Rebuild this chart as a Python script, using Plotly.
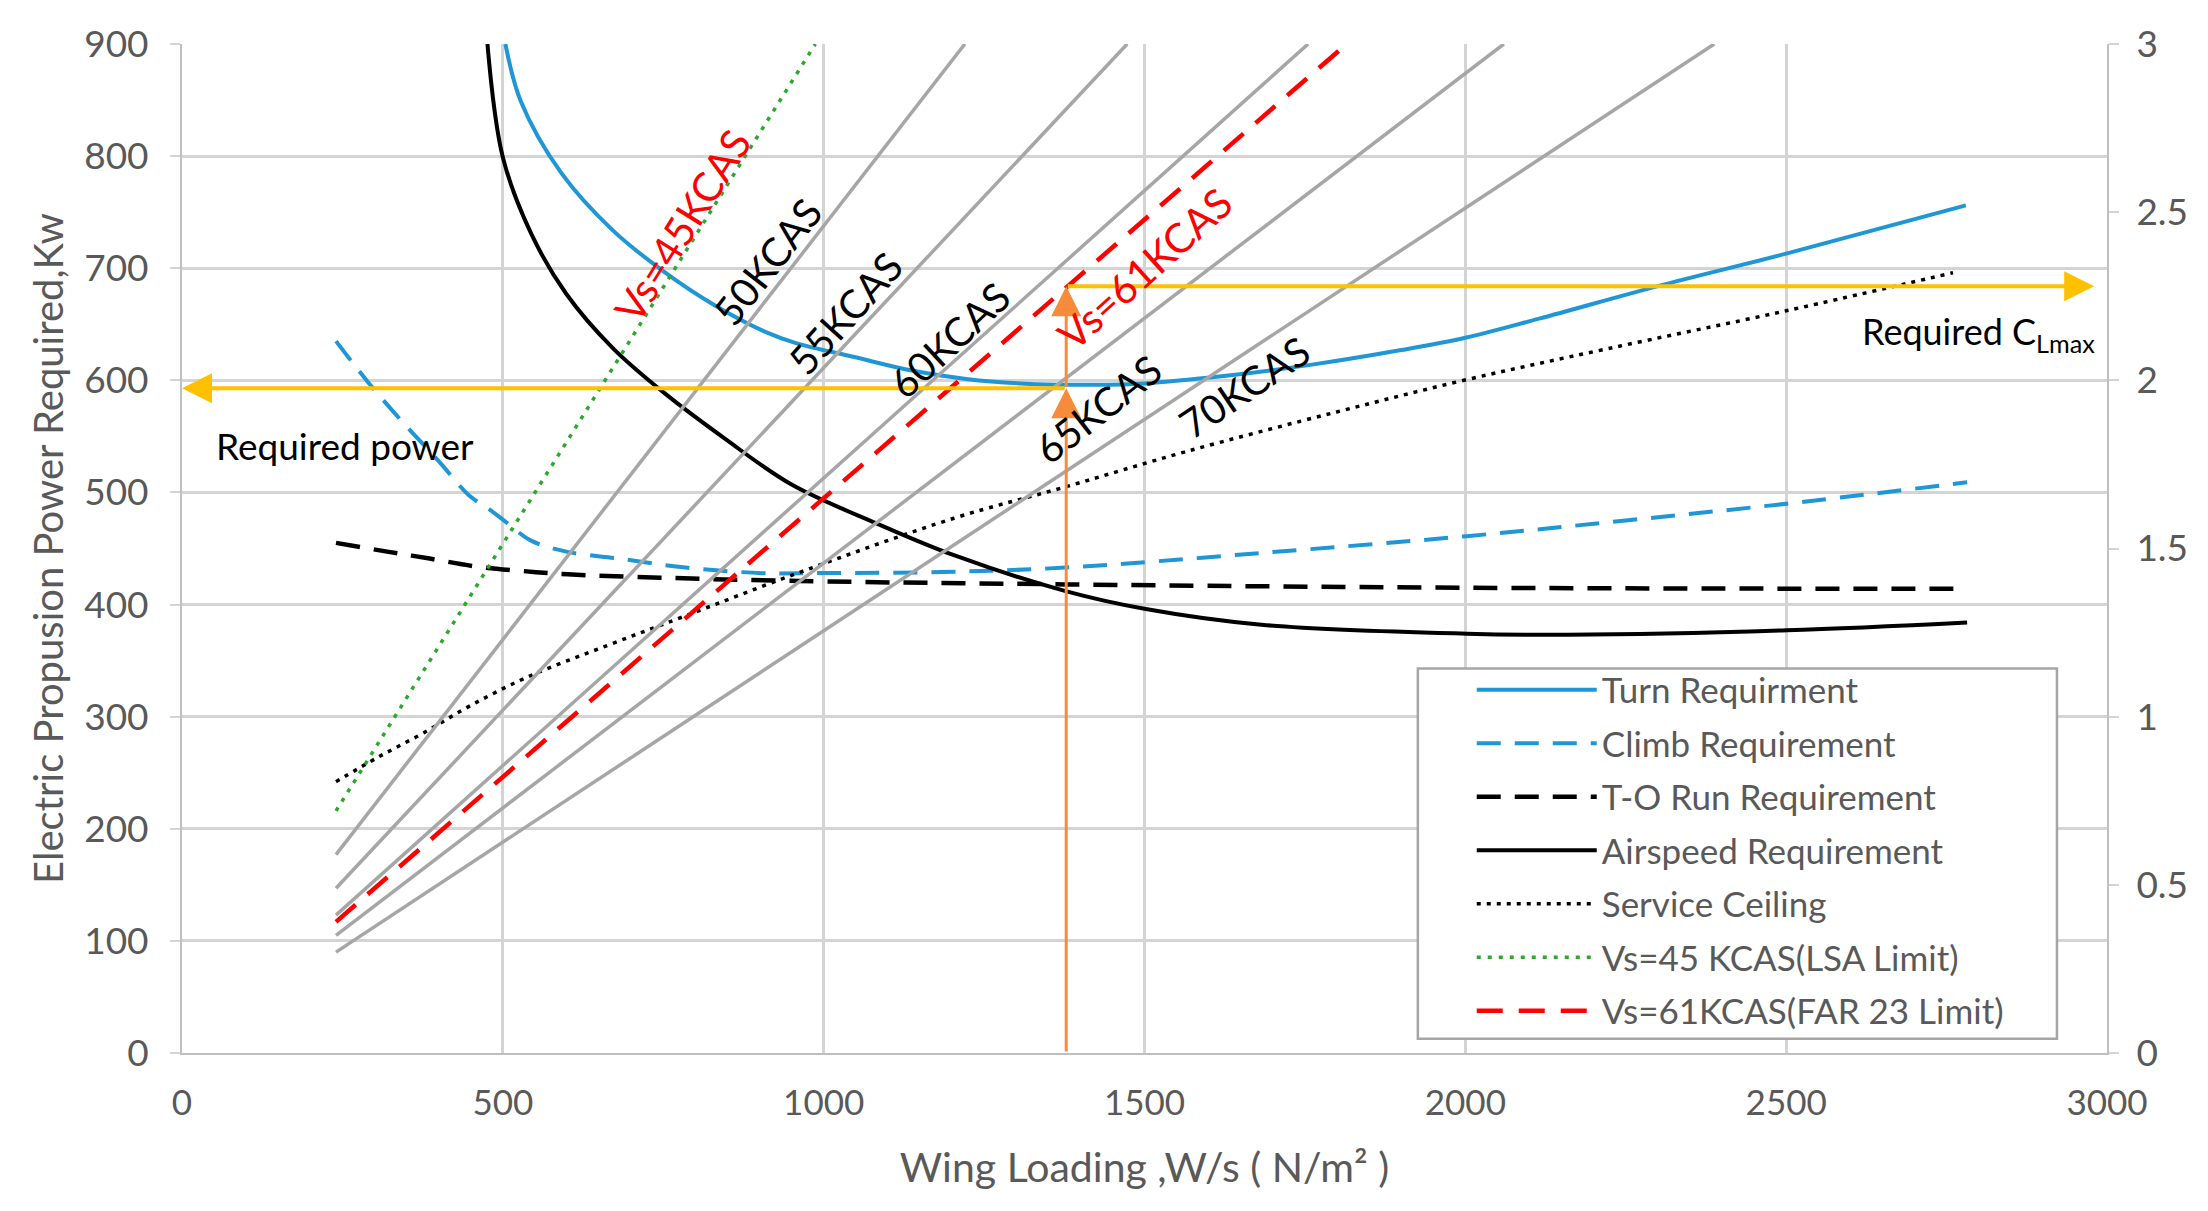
import plotly.graph_objects as go

# Wing loading (N/m^2) vs electric propulsion power required (kW)
turn_ws = [504, 528, 591, 671, 751, 830, 910, 958, 1046, 1135, 1225, 1314, 1386, 1493, 1627, 1761, 1900, 2000, 2115, 2300, 2500, 2780]
turn_kw = [900, 849, 785, 734, 697, 667, 643, 633, 621, 609, 601, 597, 596, 597, 604, 614, 627, 638, 655, 684, 713, 756]

climb_ws = [240, 289, 345, 400, 448, 474, 504, 544, 601, 681, 785, 904, 964, 1183, 1377, 1682, 2002, 2250, 2501, 2782]
climb_kw = [635, 599, 562, 528, 497, 487, 474, 457, 447, 441, 433, 428, 428, 429, 433, 446, 461, 475, 490, 509]

takeoff_ws = [240, 322, 386, 458, 529, 601, 745, 964, 1377, 2002, 2782]
takeoff_kw = [455, 447, 441, 434, 430, 427, 424, 421, 418, 415, 414]

airspeed_ws = [476, 500, 544, 599, 671, 751, 846, 950, 1084, 1203, 1377, 1502, 1682, 2002, 2160, 2501, 2782]
airspeed_kw = [900, 799, 731, 677, 629, 589, 548, 507, 472, 444, 412, 396, 382, 374, 373, 377, 384]

ceiling_ws = [240, 306, 378, 450, 537, 665, 785, 964, 1203, 1377, 1562, 1801, 2005, 2220, 2500, 2760]
ceiling_kw = [242, 264, 286, 310, 335, 364, 390, 429, 477, 505, 536, 572, 601, 628, 662, 696]

# stall speed lines, CLmax (right axis) vs wing loading
kcas_labels = ['50KCAS', '55KCAS', '60KCAS', '65KCAS', '70KCAS']
kcas_ws = [[240, 1220], [240, 1473], [240, 1755], [240, 2060], [240, 2388]]
kcas_cl = [[0.59, 3.0], [0.49, 3.0], [0.41, 3.0], [0.35, 3.0], [0.30, 3.0]]

vs45_ws = [240, 987]
vs45_cl = [0.72, 3.0]
vs61_ws = [240, 1815]
vs61_cl = [0.39, 3.0]

# design point
design_ws = 1378
design_kw = 593
design_clmax = 2.28

blue = '#1f96d6'
font = 'Lato'
grey_txt = '#595959'

fig = go.Figure()

for ws, cl in zip(kcas_ws, kcas_cl):
    fig.add_trace(go.Scatter(x=ws, y=cl, yaxis='y2', mode='lines',
                             line=dict(color='#a6a6a6', width=3.5),
                             showlegend=False, hoverinfo='skip'))

fig.add_trace(go.Scatter(x=turn_ws, y=turn_kw, name='Turn Requirment', mode='lines',
                         line=dict(color=blue, width=4, shape='spline'), legendgroup='a'))
fig.add_trace(go.Scatter(x=climb_ws, y=climb_kw, name='Climb Requirement', mode='lines',
                         line=dict(color=blue, width=4, dash='24px,14px', shape='spline'), legendgroup='b'))
fig.add_trace(go.Scatter(x=takeoff_ws, y=takeoff_kw, name='T-O Run Requirement', mode='lines',
                         line=dict(color='black', width=4.5, dash='24px,14px', shape='spline'), legendgroup='c'))
fig.add_trace(go.Scatter(x=airspeed_ws, y=airspeed_kw, name='Airspeed Requirement', mode='lines',
                         line=dict(color='black', width=4, shape='spline'), legendgroup='d'))
fig.add_trace(go.Scatter(x=ceiling_ws, y=ceiling_kw, name='Service Ceiling', mode='lines',
                         line=dict(color='black', width=3.5, dash='4px,6px', shape='spline'), legendgroup='e'))
fig.add_trace(go.Scatter(x=vs45_ws, y=vs45_cl, yaxis='y2', name='Vs=45 KCAS(LSA Limit)', mode='lines',
                         line=dict(color='#2ca82c', width=3.5, dash='4px,7px'), legendgroup='f'))
fig.add_trace(go.Scatter(x=vs61_ws, y=vs61_cl, yaxis='y2', name='Vs=61KCAS(FAR 23 Limit)', mode='lines',
                         line=dict(color='#ff0000', width=4.5, dash='26px,16px'), legendgroup='g'))

annotations = []

# design point arrows
arrow_common = dict(text='', showarrow=True, arrowhead=2, standoff=0)
annotations.append(dict(x=0, y=design_kw, ax=design_ws, ay=design_kw, xref='x', yref='y',
                        axref='x', ayref='y', arrowcolor='#ffc000', arrowwidth=4, arrowsize=1.5, **arrow_common))
annotations.append(dict(x=2980, y=design_clmax, ax=design_ws, ay=design_clmax, xref='x', yref='y2',
                        axref='x', ayref='y2', arrowcolor='#ffc000', arrowwidth=4, arrowsize=1.5, **arrow_common))
annotations.append(dict(x=design_ws, y=design_kw, ax=design_ws, ay=0, xref='x', yref='y',
                        axref='x', ayref='y', arrowcolor='#f68b3c', arrowwidth=3, arrowsize=2, **arrow_common))
annotations.append(dict(x=design_ws, y=design_clmax, ax=design_ws, ay=design_kw / 300, xref='x', yref='y2',
                        axref='x', ayref='y2', arrowcolor='#f68b3c', arrowwidth=3, arrowsize=2, **arrow_common))

annotations.append(dict(x=50, y=542, xref='x', yref='y', text='Required power', showarrow=False,
                        xanchor='left', font=dict(family=font, size=37, color='black')))
annotations.append(dict(x=2985, y=2.14, xref='x', yref='y2', text='Required C<sub>Lmax</sub>', showarrow=False,
                        xanchor='right', font=dict(family=font, size=36, color='black')))

# line labels
kcas_label_pos = [(912, 706, -52), (1034, 660, -48), (1196, 636, -43), (1428, 574, -38), (1656, 594, -34)]
for lab, (lx, ly, ang) in zip(kcas_labels, kcas_label_pos):
    annotations.append(dict(x=lx, y=ly, xref='x', yref='y', text=lab, showarrow=False, textangle=ang,
                            font=dict(family=font, size=40, color='black')))
annotations.append(dict(x=780, y=738, xref='x', yref='y', text='Vs=45KCAS', showarrow=False, textangle=-58,
                        font=dict(family=font, size=41, color='#ff0000')))
annotations.append(dict(x=1500, y=700, xref='x', yref='y', text='Vs=61KCAS', showarrow=False, textangle=-42,
                        font=dict(family=font, size=41, color='#ff0000')))

# legend frame: drawn as a shape so the entries can sit inset from the border
shapes = [dict(type='rect', xref='paper', yref='paper', x0=0.642, x1=0.974, y0=0.014, y1=0.381,
               line=dict(color='#a6a6a6', width=2.5), fillcolor='white', layer='above')]

axis_common = dict(showline=True, linecolor='#bfbfbf', linewidth=2, gridcolor='#d4d4d4', gridwidth=2.5,
                   zeroline=False)

fig.update_layout(
    width=2192, height=1195,
    margin=dict(l=174, r=93, t=30, b=150),
    paper_bgcolor='white', plot_bgcolor='white',
    font=dict(family=font, color=grey_txt),
    xaxis=dict(range=[0, 3000], dtick=500, ticks='', ticklabelstandoff=18,
               tickfont=dict(family=font, size=35, color=grey_txt),
               title=dict(text='Wing Loading ,W/s ( N/m² )', font=dict(family=font, size=41, color=grey_txt), standoff=32),
               **axis_common),
    yaxis=dict(range=[0, 900], dtick=100, ticks='outside', ticklen=10, tickcolor='#d4d4d4', tickwidth=2,
               ticklabelstandoff=14, tickfont=dict(family=font, size=37, color=grey_txt),
               title=dict(text='Electric Propusion Power Required,Kw', font=dict(family=font, size=40, color=grey_txt), standoff=8),
               **axis_common),
    yaxis2=dict(range=[0, 3], dtick=0.5, overlaying='y', side='right', showgrid=False, showline=True,
                linecolor='#bfbfbf', linewidth=2, ticks='outside', ticklen=10, tickcolor='#d4d4d4', tickwidth=2,
                ticklabelstandoff=10, tickfont=dict(family=font, size=37, color=grey_txt), zeroline=False),
    showlegend=True,
    legend=dict(x=0.670, y=0.389, xanchor='left', yanchor='top', bgcolor='rgba(0,0,0,0)',
                borderwidth=0, tracegroupgap=5, itemwidth=120,
                font=dict(family=font, size=35, color=grey_txt)),
    shapes=shapes,
    annotations=annotations,
)

fig.write_html("out.html")
